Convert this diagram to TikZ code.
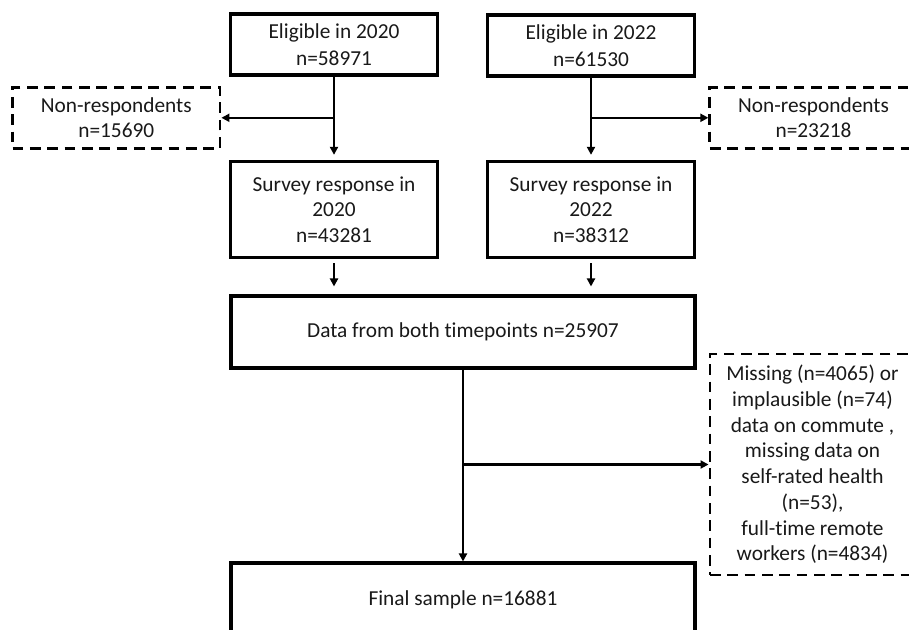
\documentclass[tikz,border=0pt]{standalone}
\usepackage{fontspec}
\setmainfont{Carlito}[Ligatures=NoCommon]
\usetikzlibrary{arrows.meta,calc}
\begin{document}
\begin{tikzpicture}[x=0.75pt,y=-0.75pt,
  txt/.style={font=\fontsize{16pt}{19.3pt}\selectfont, align=center, inner sep=0pt, text=black!90},
  solidbox/.style={txt, draw=black, line width=2.3pt},
  dashbox/.style={txt, draw=black, line width=2.2pt, dash pattern=on 8pt off 5pt},
  conn/.style={line width=1.8pt, -{Triangle[length=6pt,width=6pt]}},
  plain/.style={line width=1.8pt}
]
\useasboundingbox (0,0) rectangle (909,630);
\fill[white] (0,0) rectangle (909,630);
\clip (0,0) rectangle (909,630);

\node[solidbox, minimum width=155pt, minimum height=45.75pt, font=\fontsize{16pt}{20.7pt}\selectfont] (e20) at (334,44.5) {Eligible in 2020\\n=58971};
\node[solidbox, minimum width=155.8pt, minimum height=45.75pt, font=\fontsize{16pt}{20.7pt}\selectfont] (e22) at (591,45.5) {Eligible in 2022\\n=61530};

\node[dashbox, minimum width=155.5pt, minimum height=45.75pt] (nrL) at (116.3,117.8) {Non-respondents\\n=15690};
\node[dashbox, minimum width=155.5pt, minimum height=45.75pt] (nrR) at (813.5,117.8) {Non-respondents\\n=23218};

\node[solidbox, minimum width=155pt, minimum height=71.7pt] (s20) at (334,209.5) {Survey response in\\2020\\n=43281};
\node[solidbox, minimum width=155.8pt, minimum height=71.7pt] (s22) at (591,209.5) {Survey response in\\2022\\n=38312};

\node[solidbox, minimum width=348pt, minimum height=54pt] (data) at (463,332) {Data from both timepoints n=25907};
\node[solidbox, minimum width=348pt, minimum height=55.5pt] (final) at (463,600) {Final sample n=16881};

\node[dashbox, minimum width=153.75pt, minimum height=165.75pt] (miss) at (812.5,464.5) {Missing (n=4065) or\\implausible (n=74)\\data on commute ,\\missing data on\\self-rated health\\(n=53),\\full-time remote\\workers (n=4834)};

% 2020 branch
\coordinate (b20) at (e20.south |- nrL.east);
\draw[conn, shorten >=4pt] (e20.south) -- (s20.north);
\draw[conn] (b20) -- (nrL.east);

% 2022 branch
\coordinate (b22) at (e22.south |- nrR.west);
\draw[conn, shorten >=4pt] (e22.south) -- (s22.north);
\draw[conn] (b22) -- (nrR.west);

% surveys to data
\draw[conn, shorten <=3.5pt, shorten >=6pt] (s20.south) -- (s20.south |- data.north);
\draw[conn, shorten <=3.5pt, shorten >=6pt] (s22.south) -- (s22.south |- data.north);

% data to final and exclusions
\coordinate (bd) at (data.south |- miss.west);
\draw[conn] (data.south) -- (final.north);
\draw[conn] (bd) -- (miss.west);
\end{tikzpicture}
\end{document}
